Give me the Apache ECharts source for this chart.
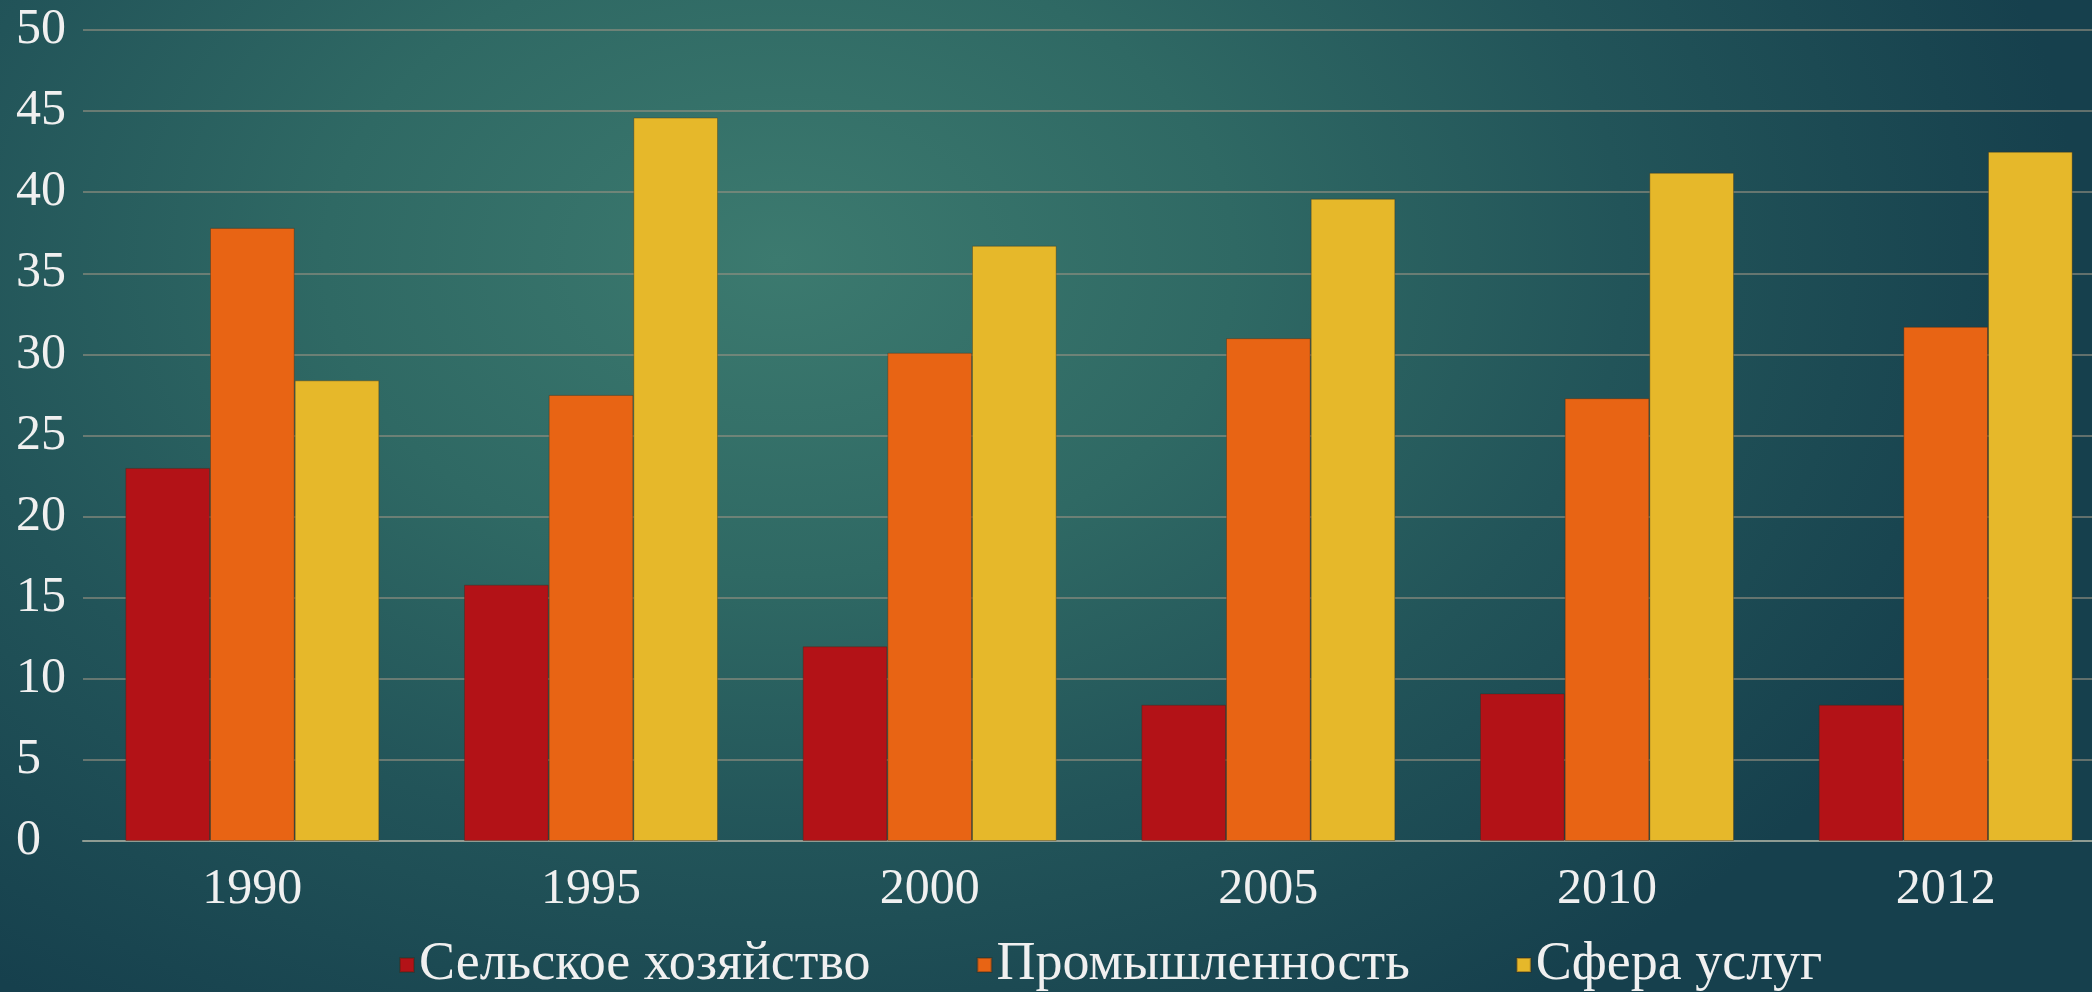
<!DOCTYPE html>
<html>
<head>
<meta charset="utf-8">
<script src="https://cdn.jsdelivr.net/npm/echarts@6/dist/echarts.min.js"></script>
<style>
  html, body { margin: 0; padding: 0; width: 2092px; height: 992px; overflow: hidden; }
  body {
    background:
      radial-gradient(ellipse 1300px 900px at 780px 260px, #3c7a6f 0%, #2f6964 35%, #225459 65%, #16404d 100%);
  }
  #chart { width: 2092px; height: 992px; }
</style>
</head>
<body>
<div id="chart"></div>
<script>
const categories = ['1990', '1995', '2000', '2005', '2010', '2012'];
const seriesNames = ['Сельское хозяйство', 'Промышленность', 'Сфера услуг'];
const agriculture = [23.0, 15.8, 12.0, 8.4, 9.1, 8.4];
const industry = [37.8, 27.5, 30.1, 31.0, 27.3, 31.7];
const services = [28.4, 44.6, 36.7, 39.6, 41.2, 42.5];
const seriesColors = ['#b31217', '#e86414', '#e6b82a'];

const chart = echarts.init(document.getElementById('chart'), null, { renderer: 'canvas' });
const font = '"Liberation Serif", "DejaVu Serif", serif';
const textColor = '#f0f0f0';

function bar(name, data, color) {
  return {
    name: name,
    type: 'bar',
    data: data,
    barGap: '0%',
    barCategoryGap: '25%',
    itemStyle: { color: color, borderColor: 'rgba(60,40,20,0.35)', borderWidth: 1 },
    emphasis: { disabled: true }
  };
}

chart.setOption({
  backgroundColor: 'transparent',
  animation: false,
  textStyle: { fontFamily: font },
  grid: { left: 83, right: -23, top: 30, bottom: 151, containLabel: false, outerBoundsMode: 'none' },
  legend: {
    data: seriesNames,
    left: 399,
    top: 938,
    padding: 0,
    itemWidth: 14,
    itemHeight: 14,
    itemGap: 106,
    icon: 'rect',
    textStyle: { color: textColor, fontSize: 54, fontFamily: font, padding: [0, 0, 0, 0] }
  },
  xAxis: {
    type: 'category',
    data: categories,
    axisTick: { show: false },
    axisLine: { lineStyle: { color: '#8f9c93', width: 2 } },
    axisLabel: { color: textColor, fontSize: 50, fontFamily: font, margin: 24 },
    splitLine: { show: false }
  },
  yAxis: {
    type: 'value',
    min: 0,
    max: 50,
    interval: 5,
    axisLine: { show: false },
    axisTick: { show: false },
    axisLabel: { color: textColor, fontSize: 50, fontFamily: font, align: 'left', margin: 67 },
    splitLine: { lineStyle: { color: 'rgba(150,145,130,0.6)', width: 2 } }
  },
  series: [
    bar(seriesNames[0], agriculture, seriesColors[0]),
    bar(seriesNames[1], industry, seriesColors[1]),
    bar(seriesNames[2], services, seriesColors[2])
  ]
});
</script>
</body>
</html>
